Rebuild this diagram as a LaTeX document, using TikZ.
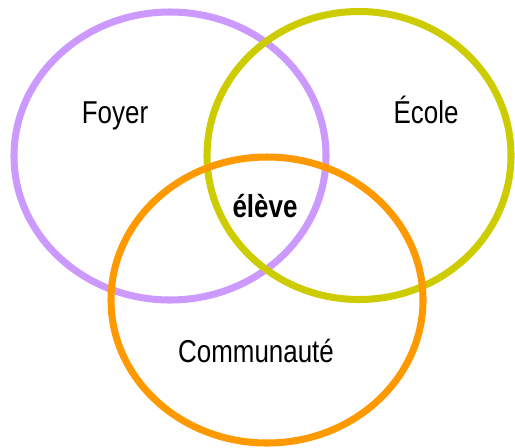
\documentclass[tikz,border=0pt]{standalone}
\usepackage{fontspec}
\setmainfont[FakeStretch=0.82]{Liberation Sans}
\usepackage{tikz}
\definecolor{lilas}{HTML}{CC99FF}
\definecolor{olive}{HTML}{CCCC00}
\definecolor{orangevif}{HTML}{FF9900}
\tikzset{ring/.style={line width=2pt}, lbl/.style={anchor=base, font=\fontsize{9}{11}\selectfont}}

\begin{document}
\begin{tikzpicture}
\useasboundingbox (0,0) rectangle (5.15,4.47);
\draw[ring,lilas] (1.70,2.91) ellipse [x radius=1.56cm, y radius=1.44cm];
\draw[ring,olive] (3.59,2.915) ellipse [x radius=1.52cm, y radius=1.44cm];
\draw[ring,orangevif] (2.67,1.47) ellipse [x radius=1.56cm, y radius=1.43cm];
\node[lbl] (foyer) at (1.15,3.24) {Foyer};
\node[lbl] (ecole) at (4.26,3.24) {École};
\node[lbl,font=\fontsize{9}{11}\selectfont\bfseries] (eleve) at (2.65,2.30) {élève};
\node[lbl] (commu) at (2.56,0.85) {Communauté};
\end{tikzpicture}
\end{document}
